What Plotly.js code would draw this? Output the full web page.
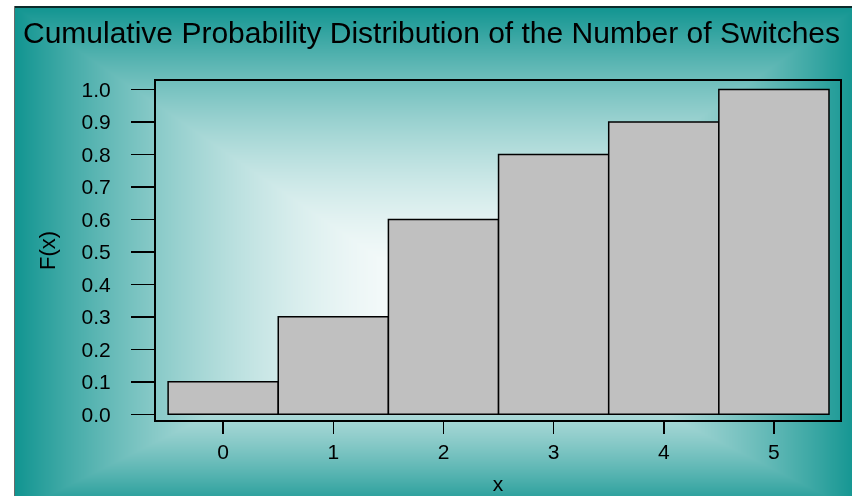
<!DOCTYPE html>
<html>
<head>
<meta charset="utf-8">
<script src="https://cdn.plot.ly/plotly-3.0.1.min.js"></script>
<style>
  html, body { margin: 0; padding: 0; background: #ffffff; }
  #wrap { position: relative; width: 852px; height: 496px; overflow: hidden; }
  #bg { position: absolute; left: 0; top: 0; }
  #chart { position: absolute; left: 0; top: 0; width: 852px; height: 496px; }
</style>
</head>
<body>
<div id="wrap">
  <canvas id="bg" width="852" height="496"></canvas>
  <div id="chart"></div>
</div>
<script>
// ---- data ----
const switches = [0, 1, 2, 3, 4, 5];
const cumulativeProb = [0.1, 0.3, 0.6, 0.8, 0.9, 1.0];
const yTickVals = [0.0, 0.1, 0.2, 0.3, 0.4, 0.5, 0.6, 0.7, 0.8, 0.9, 1.0];
const yTickText = ["0.0", "0.1", "0.2", "0.3", "0.4", "0.5", "0.6", "0.7", "0.8", "0.9", "1.0"];
const xTickText = ["0", "1", "2", "3", "4", "5"];
const chartTitle = "Cumulative Probability Distribution of the Number of Switches";

// ---- background: rectangular gradient (teal edges -> white centre) ----
(function drawBackground() {
  const cv = document.getElementById('bg');
  const ctx = cv.getContext('2d');
  const W = cv.width, H = cv.height;
  const img = ctx.createImageData(W, H);
  const L = 14, T = 6, R = 858, B = 512, cx = 440, cy = 300;
  const white = [249, 252, 252], teal = [16, 148, 144];
  for (let y = 0; y < H; y++) {
    for (let x = 0; x < W; x++) {
      const i = (y * W + x) * 4;
      let c;
      if (x < L || y < T) {
        c = [255, 255, 255];
      } else {
        const tx = x < cx ? (cx - x) / (cx - L) : (x - cx) / (R - cx);
        const ty = y < cy ? (cy - y) / (cy - T) : (y - cy) / (B - cy);
        let t = Math.min(1, Math.max(tx, ty));
        t = Math.pow(t, 1.8);
        c = [0, 1, 2].map(k => white[k] + (teal[k] - white[k]) * t);
      }
      img.data[i] = c[0]; img.data[i + 1] = c[1]; img.data[i + 2] = c[2]; img.data[i + 3] = 255;
    }
  }
  ctx.putImageData(img, 0, 0);
  ctx.fillStyle = '#0b2b2b';
  ctx.fillRect(L, T, W - L, 2);
  ctx.fillStyle = '#6a6a6a';
  ctx.fillRect(L, T, 1, H - T);
})();

// ---- chart ----
const font = 'Liberation Sans, Arial, Helvetica, sans-serif';
const trace = {
  type: 'bar',
  x: switches,
  y: cumulativeProb,
  width: 1,
  marker: { color: '#c0c0c0', line: { color: '#000000', width: 1.5 } },
  hoverinfo: 'x+y'
};

const layout = {
  width: 852,
  height: 496,
  margin: { l: 156, r: 12, t: 81, b: 76 },
  paper_bgcolor: 'rgba(0,0,0,0)',
  plot_bgcolor: 'rgba(0,0,0,0)',
  showlegend: false,
  bargap: 0,
  font: { family: font, color: '#000000', size: 21 },
  title: {
    text: chartTitle,
    font: { family: font, size: 30, color: '#000000' },
    xref: 'container', yref: 'container',
    x: 431.5 / 852, xanchor: 'center',
    y: 1 - 32 / 496, yanchor: 'middle'
  },
  xaxis: {
    range: [-0.61, 5.60],
    tickmode: 'array',
    tickvals: switches,
    ticktext: xTickText,
    ticks: 'outside', ticklen: 12, tickwidth: 1.5, tickcolor: '#000',
    ticklabelstandoff: 0,
    tickfont: { family: font, size: 21, color: '#000' },
    showline: true, mirror: true, linewidth: 2, linecolor: '#000',
    showgrid: false, zeroline: false,
    title: { text: 'x', font: { family: font, size: 21, color: '#000' }, standoff: 14 },
    fixedrange: true
  },
  yaxis: {
    range: [-0.0175, 1.026],
    tickmode: 'array',
    tickvals: yTickVals,
    ticktext: yTickText,
    ticks: 'outside', ticklen: 23, tickwidth: 1.5, tickcolor: '#000',
    ticklabelstandoff: 16,
    tickfont: { family: font, size: 21, color: '#000' },
    showline: true, mirror: true, linewidth: 2, linecolor: '#000',
    showgrid: false, zeroline: false,
    title: { text: 'F(x)', font: { family: font, size: 22, color: '#000' }, standoff: 20 },
    fixedrange: true
  }
};

Plotly.newPlot('chart', [trace], layout, { displayModeBar: false, staticPlot: true });
</script>
</body>
</html>
